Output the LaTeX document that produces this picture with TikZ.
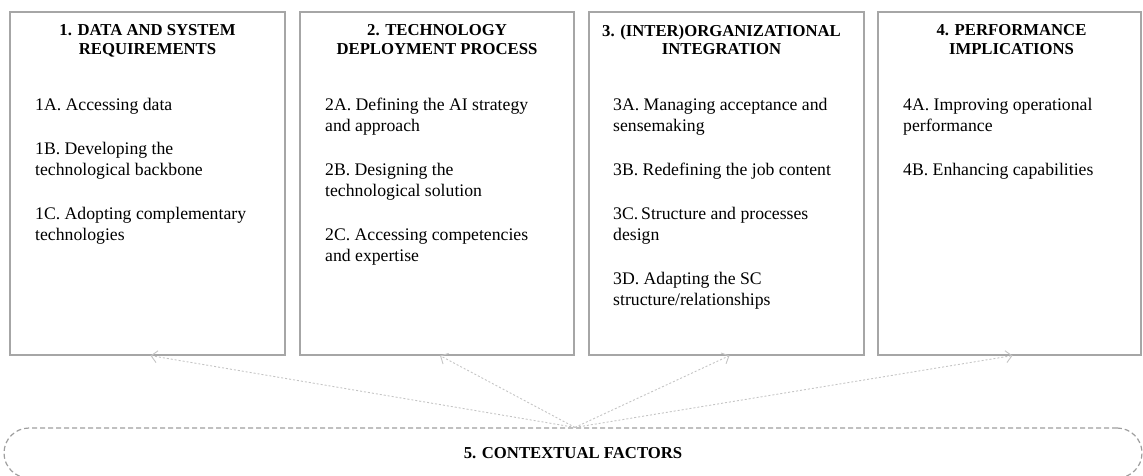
\documentclass[tikz,border=0pt]{standalone}
\usepackage{fontspec}
\setmainfont{Liberation Serif}
\usetikzlibrary{arrows.meta,positioning}
\definecolor{frame}{RGB}{166,166,166}
\definecolor{faint}{RGB}{196,196,196}
\definecolor{ctxgray}{RGB}{158,158,158}
\tikzset{
  panel/.style={draw=frame, line width=1.2pt, minimum width=275pt, minimum height=343pt, inner sep=0pt},
  head/.style={font=\fontsize{16.7}{18.7}\selectfont\bfseries, align=center, inner sep=0pt, anchor=north},
  items/.style={font=\fontsize{17.7}{21}\selectfont, align=left, inner sep=0pt, anchor=north west},
  link/.style={-{Straight Barb[length=6pt,width=12pt]}, draw=faint, line width=0.9pt, dash pattern=on 2pt off 2pt},
  context/.style={draw=ctxgray, line width=1.2pt, dash pattern=on 5pt off 3pt, rounded corners=25pt,
    minimum width=1138pt, minimum height=50pt, font=\fontsize{16.7}{18.7}\selectfont\bfseries}
}

\begin{document}
\begin{tikzpicture}[x=1pt,y=-1pt]
  \useasboundingbox (0,0) rectangle (1143,476);
  \clip (0,0) rectangle (1143,476);
  % the four panels
  \node[panel] (p1) at (147.5,183.5) {};
  \node[panel, minimum width=274pt] (p2) at (437,183.5) {};
  \node[panel] (p3) at (726.5,183.5) {};
  \node[panel, minimum width=263pt] (p4) at (1009.5,183.5) {};
  \node[head] (h1) at (147.5,24.5) {1. DATA AND SYSTEM\\REQUIREMENTS};
  \node[head] (h2) at (437,24.5) {2. TECHNOLOGY\\DEPLOYMENT PROCESS};
  \node[head] (h3) at (721.5,24.5) {3. (INTER)ORGANIZATIONAL\\INTEGRATION};
  \node[head] (h4) at (1011.5,24.5) {4. PERFORMANCE\\IMPLICATIONS};
  \node[items] (i1) at (35,98) {1A. Accessing data\\[23pt]1B. Developing the\\technological backbone\\[23pt]1C. Adopting complementary\\technologies};
  \node[items] (i2) at (325,98) {2A. Defining the AI strategy\\and approach\\[23pt]2B. Designing the\\technological solution\\[23pt]2C. Accessing competencies\\and expertise};
  \node[items] (i3) at (613,98) {3A. Managing acceptance and\\sensemaking\\[23pt]3B. Redefining the job content\\[23pt]3C.\,Structure and processes\\design\\[23pt]3D. Adapting the SC\\structure/relationships};
  \node[items] (i4) at (903,98) {4A. Improving operational\\performance\\[23pt]4B. Enhancing capabilities};
  % contextual factors
  \node[context] (ctx) at (573,453) {5. CONTEXTUAL FACTORS};
  \coordinate (hub) at ([xshift=2pt]ctx.north);
  \foreach \p in {p1,p2,p3,p4}
    \draw[link] (hub) -- ([xshift=3pt]\p.south);
\end{tikzpicture}
\end{document}
